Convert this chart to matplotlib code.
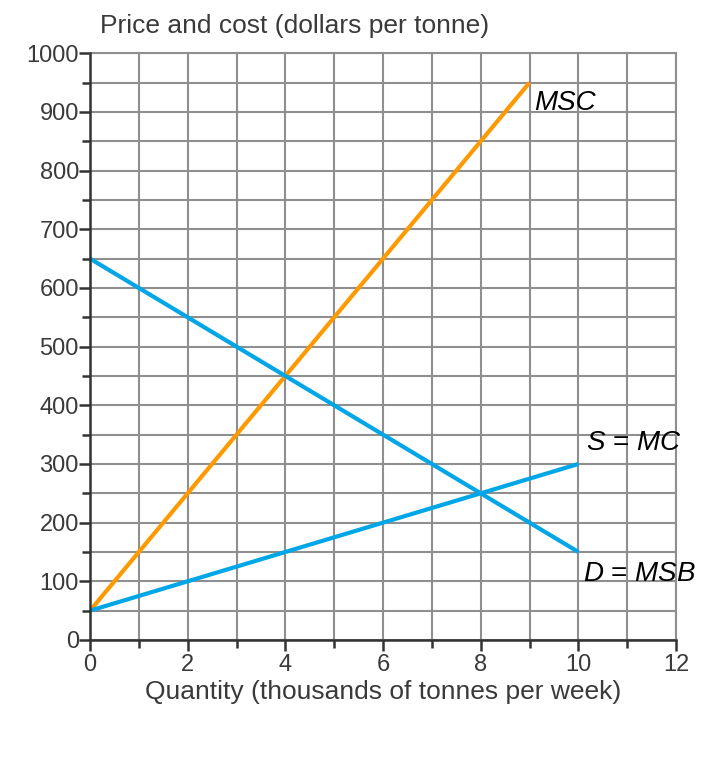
import matplotlib.pyplot as plt
from matplotlib.ticker import MultipleLocator

plt.rcParams['font.family'] = ['Liberation Sans', 'DejaVu Sans']
plt.rcParams['mathtext.fontset'] = 'custom'
plt.rcParams['mathtext.rm'] = 'Liberation Sans'
plt.rcParams['mathtext.it'] = 'Liberation Sans:italic'

# curves: (quantity, price) end points
msc_x = [0, 9]
msc_y = [50, 950]
smc_x = [0, 10]
smc_y = [50, 300]
dmsb_x = [0, 10]
dmsb_y = [650, 150]

txt = '#3a3a3a'
gridc = '#8f8f8f'

fig = plt.figure(figsize=(7.16, 7.72), dpi=100)
ax = fig.add_axes([0.1257, 0.171, 0.8185, 0.76])

ax.set_xlim(0, 12)
ax.set_ylim(0, 1000)
ax.xaxis.set_major_locator(MultipleLocator(2))
ax.xaxis.set_minor_locator(MultipleLocator(1))
ax.yaxis.set_major_locator(MultipleLocator(100))
ax.yaxis.set_minor_locator(MultipleLocator(50))
ax.grid(True, which='both', color=gridc, lw=1.5, zorder=0)
ax.set_axisbelow(True)

for s in ['top', 'right']:
    ax.spines[s].set_color(gridc)
    ax.spines[s].set_linewidth(1.5)
for s in ['left', 'bottom']:
    ax.spines[s].set_color('#333333')
    ax.spines[s].set_linewidth(1.8)
    ax.spines[s].set_zorder(5)

ax.tick_params(which='both', direction='out', color='#333333', width=1.8,
               labelsize=17, labelcolor=txt)
ax.tick_params(which='major', length=8)
ax.tick_params(which='minor', length=6)
ax.tick_params(axis='x', pad=2)
ax.tick_params(axis='y', pad=0)

ax.plot(msc_x, msc_y, color='#ff9900', lw=3, solid_capstyle='butt', zorder=3)
ax.plot(smc_x, smc_y, color='#00a6e6', lw=3, solid_capstyle='butt', zorder=3)
ax.plot(dmsb_x, dmsb_y, color='#00a6e6', lw=3, solid_capstyle='butt', zorder=3)

ax.text(9.1, 915, 'MSC', fontsize=20, style='italic', color='black', va='center', ha='left')
ax.text(10.15, 335, '$\\it{S}$ = $\\it{MC}$', fontsize=20, color='black', va='center', ha='left')
ax.text(10.1, 112, '$\\it{D}$ = $\\it{MSB}$', fontsize=20, color='black', va='center', ha='left')

fig.text(100 / 716, 1 - 26 / 772, 'Price and cost (dollars per tonne)', fontsize=19,
         color=txt, ha='left', va='center')
fig.text(383 / 716, 1 - 692 / 772, 'Quantity (thousands of tonnes per week)', fontsize=19,
         color=txt, ha='center', va='center')

fig.savefig('out.png', dpi=100)
